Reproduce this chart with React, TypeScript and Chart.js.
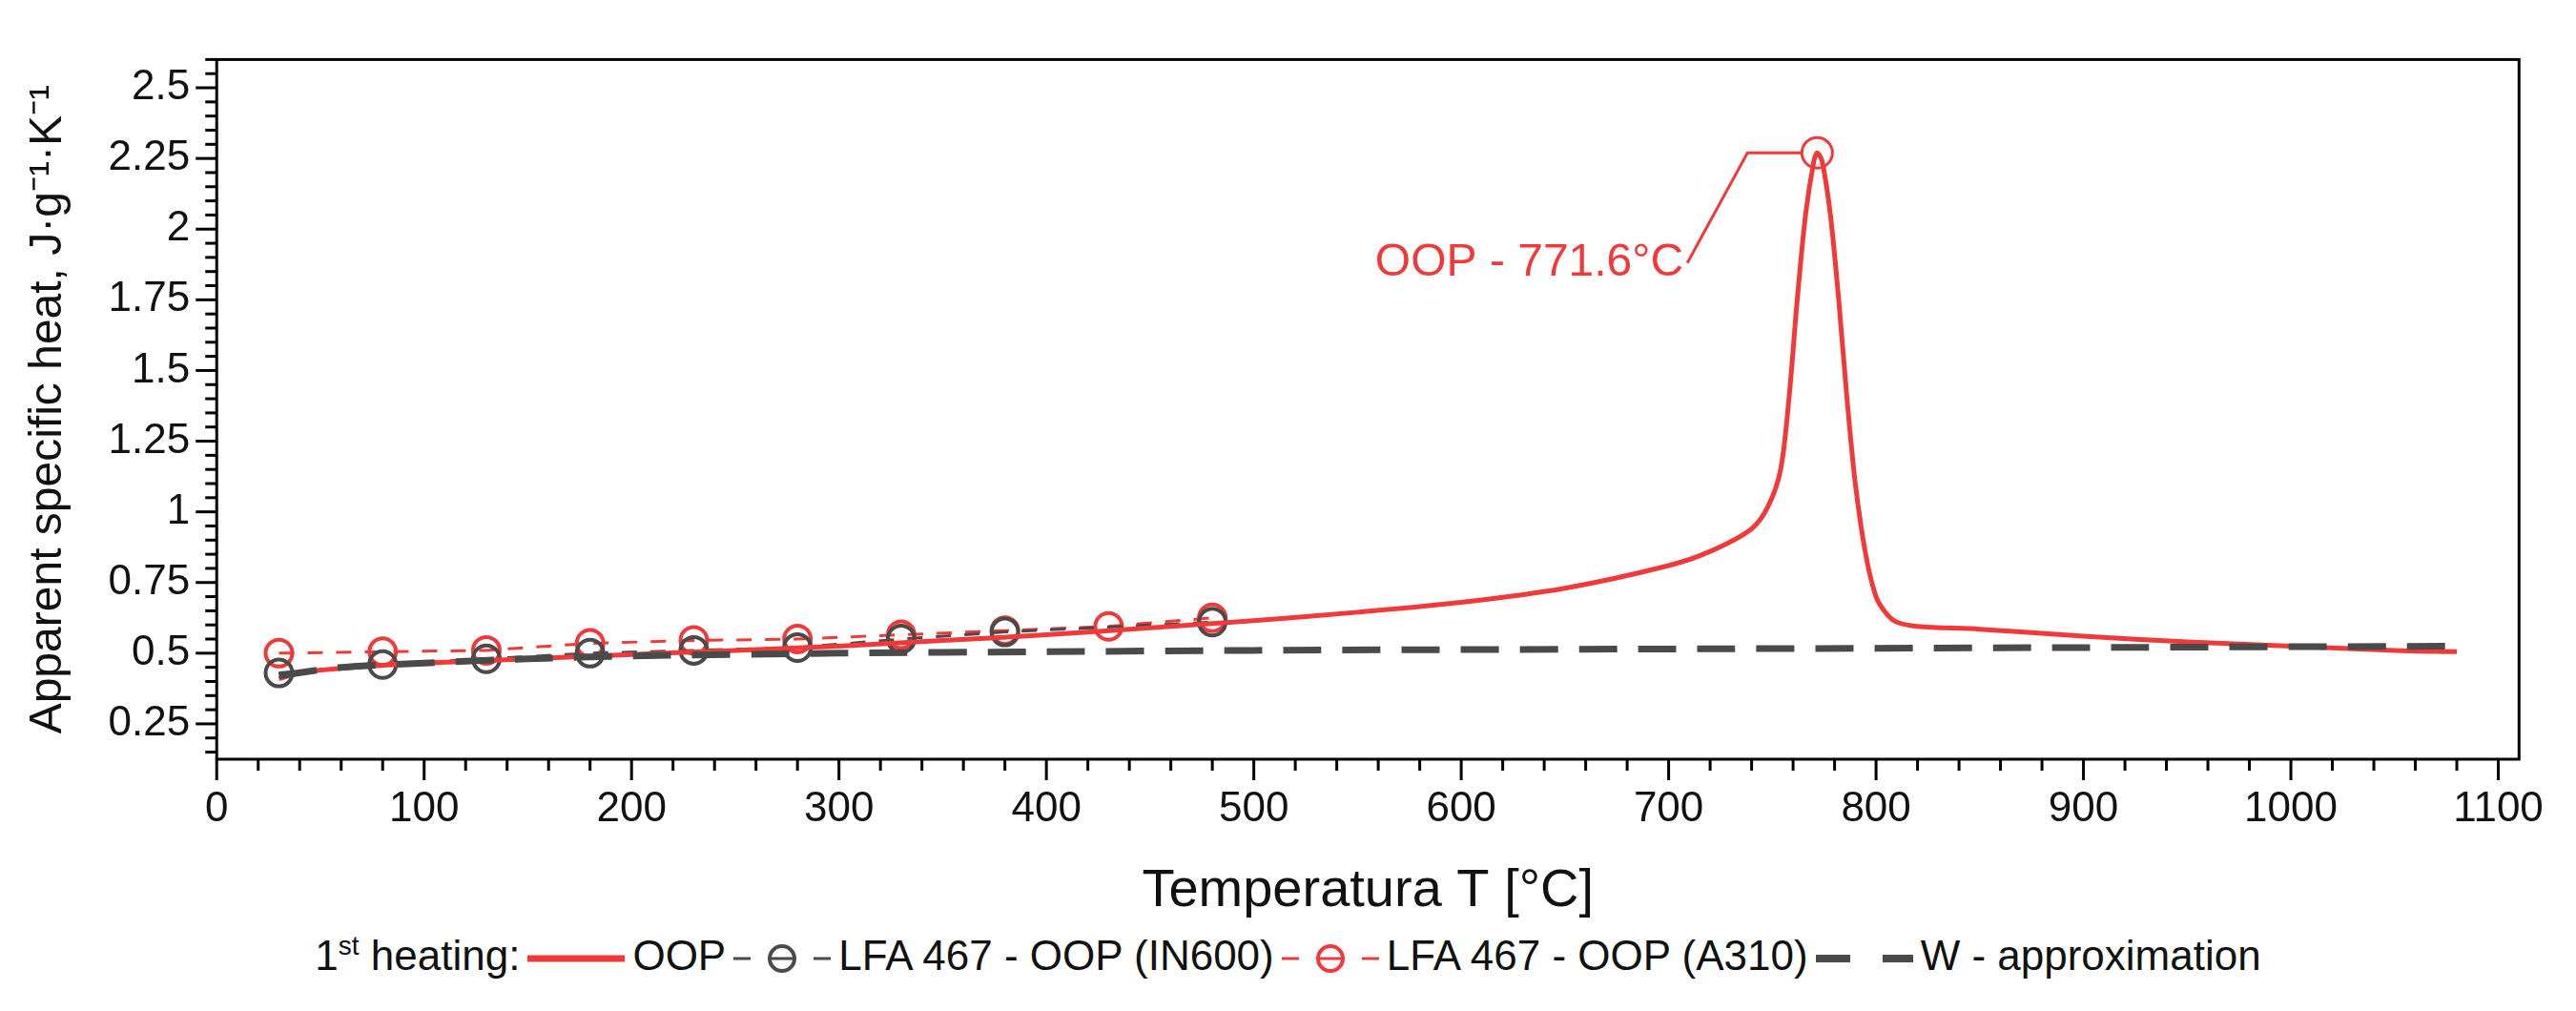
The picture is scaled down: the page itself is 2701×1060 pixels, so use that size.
import React, { useEffect, useRef } from "react";
import { Chart, registerables } from "chart.js";
Chart.register(...registerables);

const oopT = [30, 40, 50, 75, 100, 150, 200, 250, 300, 350, 400, 450, 480, 500, 550, 600, 650, 700, 720, 740, 748, 754, 758, 762, 766, 770, 771.6, 774, 778, 782, 786, 790, 795, 800, 805, 810, 820, 850, 900, 950, 1000, 1050, 1080];
const oopV = [0.41, 0.43, 0.44, 0.455, 0.465, 0.48, 0.495, 0.51, 0.525, 0.545, 0.565, 0.59, 0.605, 0.615, 0.645, 0.68, 0.73, 0.81, 0.86, 0.94, 1.02, 1.15, 1.4, 1.75, 2.05, 2.24, 2.27, 2.24, 2.05, 1.75, 1.4, 1.1, 0.85, 0.7, 0.64, 0.61, 0.595, 0.585, 0.56, 0.54, 0.525, 0.51, 0.505];
const in600T = [30, 80, 130, 180, 230, 280, 330, 380, 480];
const in600V = [0.43, 0.46, 0.48, 0.5, 0.51, 0.52, 0.55, 0.575, 0.61];
const a310T = [30, 80, 130, 180, 230, 280, 330, 380, 430, 480];
const a310V = [0.5, 0.505, 0.51, 0.535, 0.545, 0.55, 0.565, 0.58, 0.595, 0.625];
const wT = [30, 60, 100, 150, 200, 300, 400, 500, 700, 900, 1080];
const wV = [0.42, 0.45, 0.465, 0.48, 0.49, 0.5, 0.505, 0.51, 0.515, 0.52, 0.525];
const peakT = 771.6, peakV = 2.27;
const peakLabel = "OOP - 771.6°C";

const RED = "#f03a3a", GRAY = "#4a4a4a";
const FONT = "'Liberation Sans', Arial, sans-serif";
const pts = (xs: number[], ys: number[]) => xs.map((x, i) => ({ x, y: ys[i] }));

export default function App() {
  const ref = useRef<HTMLCanvasElement>(null);
  useEffect(() => {
    const extra = {
      id: "extra",
      afterDatasetsDraw(c: any) {
        const { ctx, scales: { x, y }, chartArea: a } = c;
        ctx.save();
        ctx.strokeStyle = "#000"; ctx.lineWidth = 3;
        ctx.strokeRect(a.left, a.top, a.right - a.left, a.bottom - a.top);
        for (let v = 0; v <= 1100; v += 20) {
          const px = x.getPixelForValue(v);
          const L = v % 100 === 0 ? 22 : 12;
          ctx.beginPath(); ctx.moveTo(px, a.bottom); ctx.lineTo(px, a.bottom + L); ctx.stroke();
        }
        for (let v = 0.15; v <= 2.6; v += 0.05) {
          const vv = Math.round(v * 100) / 100;
          const py = y.getPixelForValue(vv);
          const L = Math.round(vv * 100) % 25 === 0 ? 22 : 12;
          ctx.beginPath(); ctx.moveTo(a.left, py); ctx.lineTo(a.left - L, py); ctx.stroke();
        }
        const cx = x.getPixelForValue(peakT), cy = y.getPixelForValue(peakV);
        ctx.strokeStyle = RED; ctx.lineWidth = 3;
        ctx.beginPath(); ctx.arc(cx, cy, 16, 0, Math.PI * 2); ctx.stroke();
        const lx = x.getPixelForValue(709), ly = y.getPixelForValue(1.88);
        const kx = x.getPixelForValue(738);
        ctx.beginPath(); ctx.moveTo(lx, ly); ctx.lineTo(kx, cy); ctx.lineTo(cx - 16, cy); ctx.stroke();
        ctx.fillStyle = RED; ctx.font = `48px ${FONT}`; ctx.textAlign = "right"; ctx.textBaseline = "middle";
        ctx.fillText(peakLabel, lx - 4, ly);
        ctx.restore();
      },
    };
    const chart = new Chart(ref.current!, {
      type: "scatter",
      data: {
        datasets: [
          { label: "W - approximation", data: pts(wT, wV), showLine: true, borderColor: GRAY, borderWidth: 7, borderDash: [40, 22], pointRadius: 0, tension: 0.3 },
          { label: "OOP", data: pts(oopT, oopV), showLine: true, borderColor: RED, borderWidth: 5, pointRadius: 0, tension: 0.3 },
          { label: "LFA 467 - OOP (IN600)", data: pts(in600T, in600V), showLine: true, borderColor: GRAY, borderWidth: 3, borderDash: [16, 14], pointRadius: 14, pointBorderWidth: 4, pointBorderColor: GRAY, pointBackgroundColor: "rgba(0,0,0,0)" },
          { label: "LFA 467 - OOP (A310)", data: pts(a310T, a310V), showLine: true, borderColor: RED, borderWidth: 3, borderDash: [16, 14], pointRadius: 14, pointBorderWidth: 4, pointBorderColor: RED, pointBackgroundColor: "rgba(0,0,0,0)" },
        ],
      },
      options: {
        animation: false, responsive: true, maintainAspectRatio: false,
        layout: { padding: { top: 20, right: 10, left: 10 } },
        plugins: { legend: { display: false }, tooltip: { enabled: false } },
        scales: {
          x: {
            type: "linear", min: 0, max: 1110,
            afterBuildTicks: (s: any) => { s.ticks = [0,100,200,300,400,500,600,700,800,900,1000,1100].map(v => ({ value: v })); },
            grid: { display: false, drawTicks: false },
            border: { display: false },
            ticks: { color: "#111", font: { size: 44, family: FONT }, padding: 26, maxRotation: 0, callback: (v: any) => String(v) },
            title: { display: true, text: "Temperatura T [°C]", color: "#111", font: { size: 56, family: FONT }, padding: { top: 0, bottom: 0 } },
          },
          y: {
            type: "linear", min: 0.125, max: 2.6,
            afterBuildTicks: (s: any) => { s.ticks = [0.25,0.5,0.75,1,1.25,1.5,1.75,2,2.25,2.5].map(v => ({ value: v })); },
            grid: { display: false, drawTicks: false },
            border: { display: false },
            ticks: { color: "#111", font: { size: 44, family: FONT }, padding: 28, callback: (v: any) => String(v) },
            title: { display: true, text: "Apparent specific heat, J·g⁻¹·K⁻¹", color: "#111", font: { size: 48, family: FONT }, padding: { bottom: 6 } },
          },
        },
      },
      plugins: [extra],
    });
    return () => chart.destroy();
  }, []);

  const seg = (color: string, dash: string | undefined, w: number, circle: boolean) => (
    <svg width={110} height={40} style={{ verticalAlign: "middle", margin: "0 4px" }}>
      <line x1={4} y1={20} x2={106} y2={20} stroke={color} strokeWidth={w} strokeDasharray={dash} />
      {circle && <circle cx={55} cy={20} r={13} fill="white" stroke={color} strokeWidth={4} />}
      {circle && <line x1={42} y1={20} x2={68} y2={20} stroke={color} strokeWidth={3} />}
    </svg>
  );
  return (
    <div style={{ fontFamily: FONT }}>
      <div style={{ width: 2685, height: 960, position: "relative" }}>
        <canvas ref={ref} />
      </div>
      <div style={{ textAlign: "center", fontSize: 44, color: "#111", marginTop: 8, whiteSpace: "nowrap" }}>
        <span>1<sup style={{ fontSize: 28 }}>st</sup> heating:</span>
        {seg(RED, undefined, 7, false)}<span>OOP</span>
        {seg(GRAY, "18 66", 3, true)}<span>LFA 467 - OOP (IN600)</span>
        {seg(RED, "18 66", 3, true)}<span>LFA 467 - OOP (A310)</span>
        {seg(GRAY, "36 34", 8, false)}<span>W - approximation</span>
      </div>
    </div>
  );
}
